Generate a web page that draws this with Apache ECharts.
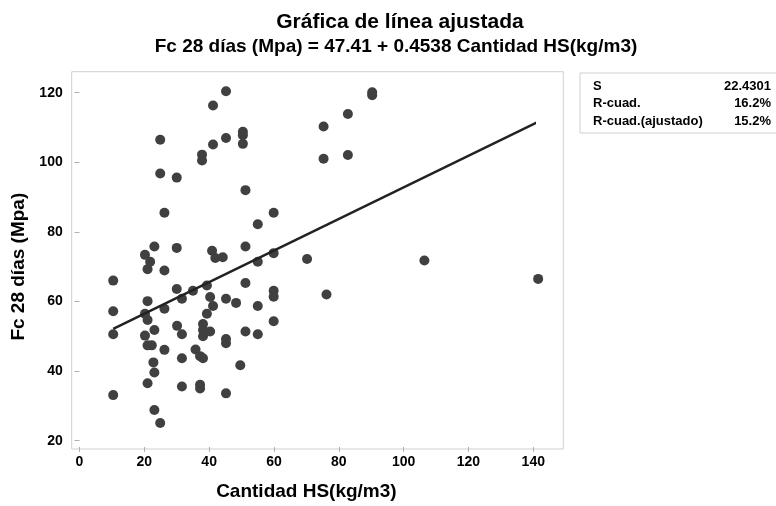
<!DOCTYPE html>
<html><head><meta charset="utf-8">
<script src="https://cdn.jsdelivr.net/npm/echarts@6/dist/echarts.min.js"></script>
<style>html,body{margin:0;padding:0;background:#fff}#c{width:776px;height:506px}</style>
</head><body><div id="c"></div>
<script>
// Cantidad HS (kg/m3)
const hsValues = [10.4,10.4,10.4,10.4,20.2,21.8,21.0,21.0,20.2,21.0,20.2,23.1,21.0,22.3,22.8,23.1,21.0,23.1,23.1,24.9,24.9,24.9,26.2,26.2,26.2,26.2,
  30.0,30.0,30.0,30.1,31.6,31.6,31.6,31.6,35.0,35.8,37.8,37.8,37.2,38.1,37.2,37.2,38.1,38.1,38.1,39.3,39.3,40.3,40.3,40.9,41.2,41.2,41.2,41.9,
  44.2,45.2,45.2,45.2,45.2,45.2,45.2,48.3,49.6,50.4,50.4,50.4,51.2,51.2,51.2,51.2,55.0,55.0,55.0,55.0,59.9,59.9,59.9,59.9,59.9,
  70.2,75.3,75.3,76.2,82.8,82.8,90.3,90.3,106.4,141.5];
// Fc 28 días (Mpa)
const fcValues = [66.0,57.2,50.6,33.1,73.4,71.4,69.3,60.1,56.5,54.7,50.2,51.8,47.4,47.4,42.5,39.6,36.5,28.8,75.8,106.5,96.8,25.1,85.5,68.9,57.9,46.1,
  95.6,75.4,63.6,53.0,60.8,50.6,43.7,35.6,63.1,46.2,102.2,100.5,44.3,43.7,36.1,35.0,53.5,51.8,50.0,64.6,56.5,61.3,51.4,74.6,58.7,105.1,116.3,72.5,
  72.7,120.4,107.0,60.8,49.2,48.0,33.6,59.6,41.7,108.8,107.8,105.3,92.0,75.8,65.3,51.4,82.2,71.4,58.7,50.6,85.5,73.9,63.1,61.4,54.3,
  72.2,110.3,101.0,62.0,113.9,102.1,119.3,120.1,71.8,66.5];
const intercept = 47.41;
const slope = 0.4538;
const xTicks = {min: 0, max: 140, step: 20};
const yTicks = {min: 20, max: 120, step: 20};
const statLabels = ['S', 'R-cuad.', 'R-cuad.(ajustado)'];
const statValues = ['22.4301', '16.2%', '15.2%'];

const pts = hsValues.map((x, i) => [x, fcValues[i]]);
const xmin = Math.min(...hsValues), xmax = Math.max(...hsValues);
const fitLine = [[xmin, intercept + slope * xmin], [xmax, intercept + slope * xmax]];

const FONT = '"Liberation Sans", Arial, Helvetica, sans-serif';
const chart = echarts.init(document.getElementById('c'), null, {renderer: 'canvas'});

const frame = {x: 71.7, y: 71.7, w: 491.6, h: 377.3};
const graphics = [
  {type: 'rect', shape: {x: frame.x, y: frame.y, width: frame.w, height: frame.h}, style: {fill: 'none', stroke: '#cfcfcf', lineWidth: 1}, z: 0},
  {type: 'text', x: 400, y: 22, style: {text: 'Gráfica de línea ajustada', font: 'bold 21px ' + FONT, fill: '#000', align: 'center', verticalAlign: 'middle'}},
  {type: 'text', x: 396, y: 47, style: {text: 'Fc 28 días (Mpa) = 47.41 + 0.4538 Cantidad HS(kg/m3)', font: 'bold 19px ' + FONT, fill: '#000', align: 'center', verticalAlign: 'middle'}},
  {type: 'rect', shape: {x: 580, y: 73, width: 210, height: 60}, style: {fill: '#fff', stroke: '#cfcfcf', lineWidth: 1}}
];
const rowsY = [86, 103.3, 121];
statLabels.forEach((t, i) => {
  graphics.push({type: 'text', x: 593, y: rowsY[i], style: {text: t, font: 'bold 13px ' + FONT, fill: '#000', align: 'left', verticalAlign: 'middle'}});
  graphics.push({type: 'text', x: 771, y: rowsY[i], style: {text: statValues[i], font: 'bold 13px ' + FONT, fill: '#000', align: 'right', verticalAlign: 'middle'}});
});

chart.setOption({
  animation: false,
  backgroundColor: '#fff',
  grid: {left: 79.5, right: 776 - 533.3, top: 92.7, bottom: 506 - 442.7, containLabel: false},
  xAxis: {
    type: 'value', min: xTicks.min, max: xTicks.max, interval: xTicks.step, offset: 6.3,
    name: 'Cantidad HS(kg/m3)', nameLocation: 'middle', nameGap: 35,
    nameTextStyle: {fontFamily: FONT, fontWeight: 'bold', fontSize: 19, color: '#000'},
    axisLine: {show: false}, splitLine: {show: false},
    axisTick: {show: true, length: 5, lineStyle: {color: '#b0b0b0'}},
    axisLabel: {margin: 8, fontFamily: FONT, fontWeight: 'bold', fontSize: 14, color: '#000'}
  },
  yAxis: {
    type: 'value', min: yTicks.min, max: yTicks.max, interval: yTicks.step, offset: 7.8,
    name: 'Fc 28 días (Mpa)', nameLocation: 'middle', nameGap: 42, nameRotate: 90,
    nameTextStyle: {fontFamily: FONT, fontWeight: 'bold', fontSize: 19, color: '#000'},
    axisLine: {show: false}, splitLine: {show: false},
    axisTick: {show: true, length: 5, lineStyle: {color: '#b0b0b0'}},
    axisLabel: {margin: 9, fontFamily: FONT, fontWeight: 'bold', fontSize: 14, color: '#000'}
  },
  series: [
    {type: 'scatter', data: pts, symbolSize: 10, itemStyle: {color: '#404040', opacity: 1}, clip: false, z: 2},
    {type: 'line', data: fitLine, showSymbol: false, symbol: 'none', lineStyle: {color: '#222', width: 2.5}, clip: false, z: 3}
  ],
  graphic: graphics
});
</script>
</body></html>
